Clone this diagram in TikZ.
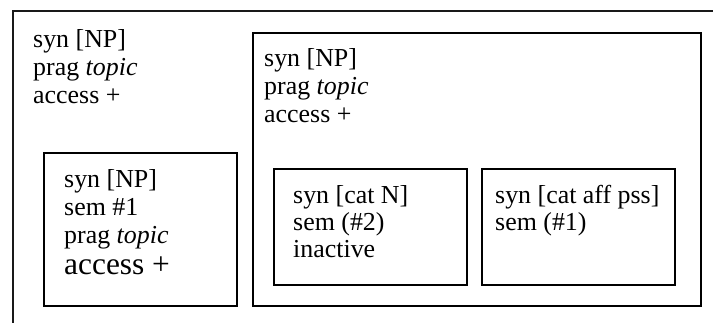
\documentclass[tikz,border=0pt]{standalone}
\usepackage{fontspec}
\setmainfont{Liberation Serif}
\begin{document}
\begin{tikzpicture}[x=1bp,y=-1bp,
  box/.style={draw=black, line width=2bp, inner sep=0pt, anchor=north west},
  txt/.style={anchor=base west, inner sep=0pt, font=\fontsize{26}{28}\selectfont},
  bigtxt/.style={anchor=base west, inner sep=0pt, font=\fontsize{31.5}{34}\selectfont}]
\useasboundingbox (0,0) rectangle (713,322);
\clip (0,0) rectangle (713,322);
% outer frame (runs off the right and bottom edges)
\node[box, line width=1.5bp, draw=black!90, minimum width=720bp, minimum height=330bp] (outer) at (12,10) {};
% right big box
\node[box, minimum width=448bp, minimum height=273bp] (rbox) at (252,32) {};
% left inner box
\node[box, minimum width=193bp, minimum height=153bp] (lbox) at (43,152) {};
% middle small box
\node[box, minimum width=193bp, minimum height=116bp] (mbox) at (273,168) {};
% right small box
\node[box, minimum width=193bp, minimum height=116bp] (sbox) at (481,168) {};
% outer texts
\node[txt] (o1) at (33,47) {syn [NP]};
\node[txt] (o2) at (33,75) {prag \textit{topic}};
\node[txt] (o3) at (33,103) {access +};
% right big box texts
\node[txt] (r1) at (264,66) {syn [NP]};
\node[txt] (r2) at (264,94) {prag \textit{topic}};
\node[txt] (r3) at (264,122) {access +};
% left inner box texts
\node[txt] (l1) at (64,187) {syn [NP]};
\node[txt] (l2) at (64,215) {sem \#1};
\node[txt] (l3) at (64,243) {prag \textit{topic}};
\node[bigtxt] (l4) at (64,274) {access +};
% middle box texts
\node[txt] (m1) at (293,203) {syn [cat N]};
\node[txt] (m2) at (293,230) {sem (\#2)};
\node[txt] (m3) at (293,257) {inactive};
% right small box texts
\node[txt] (s1) at (495,203) {syn [cat aff pss]};
\node[txt] (s2) at (495,230) {sem (\#1)};
\end{tikzpicture}
\end{document}
